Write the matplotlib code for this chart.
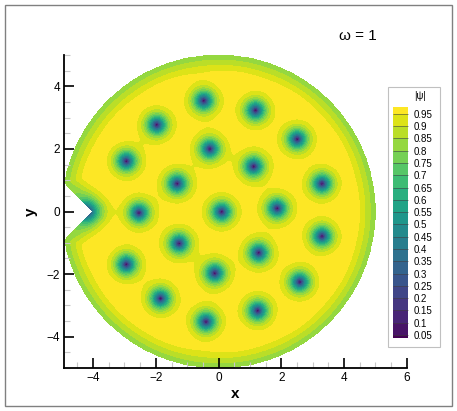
import numpy as np
import matplotlib
matplotlib.use("Agg")
import matplotlib.pyplot as plt
from matplotlib.patches import Rectangle
from matplotlib.colors import ListedColormap

plt.rcParams['font.family'] = ['Liberation Sans', 'DejaVu Sans']

# vortex centres
vort_x = [-0.47, 1.18, -1.97, 2.51, -0.28, -2.94, 1.12, -1.32, 3.30, -2.54, 0.10,
          1.87, 3.30, -1.26, 1.28, -2.94, -0.12, 2.59, -1.85, 1.25, -0.40, -4.2]
vort_y = [3.54, 3.23, 2.77, 2.31, 2.00, 1.61, 1.44, 0.89, 0.89, -0.04, -0.01,
          0.10, -0.79, -1.02, -1.32, -1.69, -1.97, -2.25, -2.78, -3.17, -3.52, 0.0]
core = 0.35
radius = 5.0
notch_tip = -4.0
levels = [round(0.05 * i, 2) for i in range(21)]
tick_levels = levels[1:20]

x = np.linspace(-4.95, 5.05, 700)
y = np.linspace(-5.05, 5.05, 700)
X, Y = np.meshgrid(x, y)
R = np.hypot(X, Y)

# distance to the boundary (circle + 90 degree notch)
def ray_dist(px, py, ux, uy):
    t = np.maximum(px * ux + py * uy, 0)
    return np.hypot(px - t * ux, py - t * uy)

s = 1 / np.sqrt(2)
d = np.minimum(radius - R, ray_dist(X - notch_tip, Y, -s, s))
d = np.minimum(d, ray_dist(X - notch_tip, Y, -s, -s))
inside = (R <= radius) & ~(np.abs(Y) < (notch_tip - X))

psi = 1 - 0.17 * np.exp(-(np.clip(d, 0, None) / 0.45) ** 2)
for vx, vy in zip(vort_x, vort_y):
    psi = psi * np.tanh(np.hypot(X - vx, Y - vy) / core)
psi = np.ma.masked_where(~inside, psi)

cmap = ListedColormap(plt.get_cmap('viridis')(np.linspace(0, 1, 20)))

fig = plt.figure(figsize=(4.57, 4.11), dpi=100)
ax = fig.add_axes([0.1407, 0.1046, 0.749, 0.7616])
cs = ax.contourf(X, Y, psi, levels=levels, cmap=cmap)
ax.set_xlim(-4.92, 6)
ax.set_ylim(-5, 5)
ax.set_aspect('auto')
for side in ['top', 'right']:
    ax.spines[side].set_visible(False)
for side in ['left', 'bottom']:
    ax.spines[side].set_linewidth(1.3)
ax.set_xticks([-4, -2, 0, 2, 4, 6])
ax.set_yticks([-4, -2, 0, 2, 4])
ax.set_xticks(np.arange(-4.5, 6, 0.5), minor=True)
ax.set_yticks(np.arange(-5, 5.01, 0.5), minor=True)
ax.tick_params(which='major', direction='in', length=7, width=1.2, labelsize=8.5, pad=3)
ax.tick_params(which='minor', direction='in', length=4, width=0.8, color='#c8c8c8')
ax.set_xlabel('x', fontsize=11, fontweight='bold', labelpad=2)
ax.set_ylabel('y', fontsize=11, fontweight='bold', labelpad=6, rotation=90)

fig.text(0.784, 0.912, 'ω = 1', fontsize=11, ha='center', va='center')

# legend box and outer frame
fig.patches.append(Rectangle((388 / 457, 64 / 411), 52 / 457, 260 / 411,
                             transform=fig.transFigure, fill=False,
                             edgecolor='#c0c0c0', linewidth=0.8))
fig.patches.append(Rectangle((5 / 457, 5 / 411), 447 / 457, 401 / 411,
                             transform=fig.transFigure, fill=False,
                             edgecolor='#808080', linewidth=1.0))
cax = fig.add_axes([0.8593, 0.1776, 0.0335, 0.562])
cb = fig.colorbar(cs, cax=cax, ticks=tick_levels, drawedges=True)
cb.outline.set_visible(False)
cb.dividers.set_color('#404040')
cb.dividers.set_linewidth(0.4)
cax.set_ylim(0.038, 0.978)
cax.tick_params(length=0, labelsize=7, pad=4)
cax.set_yticklabels([('%.2f' % v).rstrip('0') for v in tick_levels])
fig.text(420 / 457, 1 - 96 / 411, '|ψ|', fontsize=7, ha='center', va='center')

fig.savefig('out.png', dpi=100)
